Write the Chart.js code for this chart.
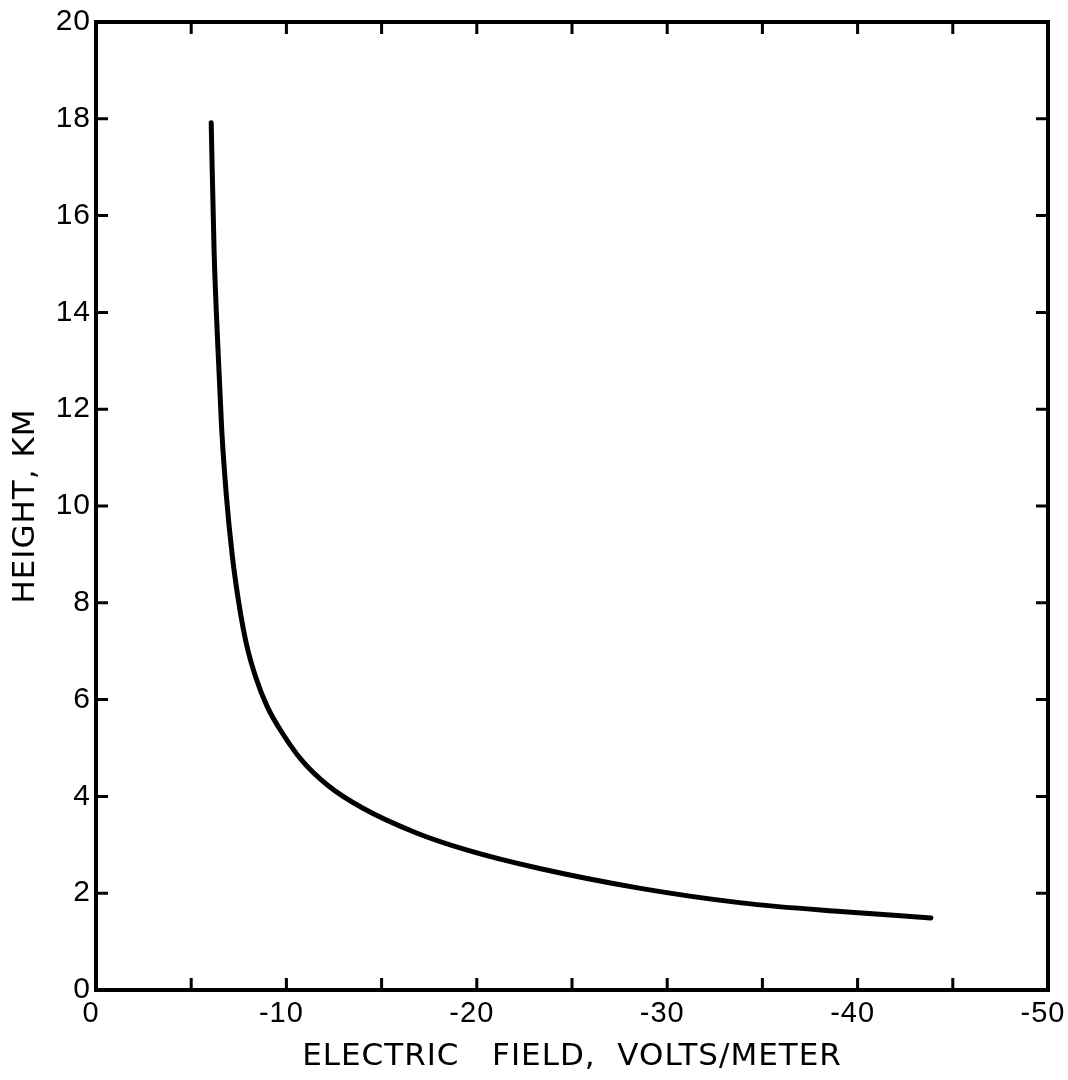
<!DOCTYPE html>
<html>
<head>
<meta charset="utf-8">
<script src="https://cdn.jsdelivr.net/npm/chart.js@4.4.0/dist/chart.umd.min.js"></script>
<style>
  html, body { margin: 0; padding: 0; background: #fff; }
  #wrap { width: 1068px; height: 1080px; }
</style>
</head>
<body>
<div id="wrap"><canvas id="chart"></canvas></div>
<script>
// values (volts/meter, km)
var fieldValues = [-6.05, -6.2, -6.4, -6.6, -6.85, -7.15, -7.5, -7.9, -8.4, -9.0, -9.8, -10.8, -12.2, -14.0, -16.8, -19.5, -23.3, -28.6, -33.9, -39.1, -43.85];
var heightValues = [17.92, 15.3, 13.3, 11.6, 10.2, 9.0, 8.0, 7.15, 6.45, 5.85, 5.3, 4.75, 4.22, 3.76, 3.25, 2.89, 2.51, 2.10, 1.80, 1.62, 1.49];
var xTickLabels = [0, -10, -20, -30, -40, -50]; // labelled ticks, minor ticks every 5
var yTickLabels = [0, 2, 4, 6, 8, 10, 12, 14, 16, 18, 20];

var tickFont = "'Liberation Sans', 'DejaVu Sans', sans-serif";
var titleFont = "'DejaVu Sans', sans-serif";

var points = fieldValues.map(function(v, i) {
  return { x: v, y: heightValues[i] };
});

// frame + inward ticks on the 4 sides
var frameTicks = {
  id: 'frameTicks',
  beforeDraw: function(chart) {
    chart.ctx.letterSpacing = '1px'; // lettering of the original is a bit spaced out
  },
  afterDraw: function(chart) {
    var ctx = chart.ctx;
    var a = chart.chartArea;
    var xs = chart.scales.x, ys = chart.scales.y;
    ctx.save();
    ctx.strokeStyle = '#000';
    ctx.lineWidth = 3;
    xs.ticks.forEach(function(t) {
      var px = xs.getPixelForValue(t.value);
      ctx.beginPath();
      ctx.moveTo(px, a.bottom); ctx.lineTo(px, a.bottom - 12);
      ctx.moveTo(px, a.top); ctx.lineTo(px, a.top + 12);
      ctx.stroke();
    });
    ys.ticks.forEach(function(t) {
      var py = ys.getPixelForValue(t.value);
      ctx.beginPath();
      ctx.moveTo(a.left, py); ctx.lineTo(a.left + 12, py);
      ctx.moveTo(a.right, py); ctx.lineTo(a.right - 12, py);
      ctx.stroke();
    });
    ctx.lineWidth = 4;
    ctx.strokeRect(a.left, a.top, a.right - a.left, a.bottom - a.top);
    ctx.restore();
  }
};

var config = {
  type: 'scatter',
  data: {
    datasets: [{
      data: points,
      showLine: true,
      borderColor: '#000',
      borderWidth: 5,
      borderCapStyle: 'round',
      borderJoinStyle: 'round',
      cubicInterpolationMode: 'monotone',
      pointRadius: 0,
      fill: false
    }]
  },
  options: {
    responsive: false,
    animation: false,
    layout: { padding: { top: 22, right: 20, left: 0, bottom: 0 } },
    plugins: { legend: { display: false }, tooltip: { enabled: false } },
    scales: {
      x: {
        type: 'linear',
        min: -50,
        max: 0,
        reverse: true,
        afterFit: function(s) { s.height = 90; s.paddingLeft = 0; s.paddingRight = 0; },
        grid: { display: false, drawTicks: false },
        border: { display: false },
        ticks: {
          stepSize: 5,
          autoSkip: false,
          maxRotation: 0,
          padding: 7,
          labelOffset: -5,
          color: '#000',
          font: { family: tickFont, size: 29 },
          callback: function(v) {
            return xTickLabels.indexOf(v) >= 0 ? String(v) : '';
          }
        },
        title: {
          display: true,
          text: 'ELECTRIC   FIELD,  VOLTS/METER',
          color: '#000',
          font: { family: titleFont, size: 31 },
          padding: { top: 0, bottom: 4 }
        }
      },
      y: {
        type: 'linear',
        min: 0,
        max: 20,
        afterFit: function(s) { s.width = 96; s.paddingTop = 0; s.paddingBottom = 0; },
        grid: { display: false, drawTicks: false },
        border: { display: false },
        ticks: {
          stepSize: 2,
          autoSkip: false,
          padding: 5,
          color: '#000',
          font: { family: tickFont, size: 30 },
          callback: function(v) {
            return yTickLabels.indexOf(v) >= 0 ? String(v) : '';
          }
        },
        title: {
          display: true,
          text: 'HEIGHT, KM',
          color: '#000',
          font: { family: titleFont, size: 31 },
          padding: { top: 7, bottom: 0 }
        }
      }
    }
  },
  plugins: [frameTicks]
};

var canvas = document.getElementById('chart');
canvas.width = 1068;
canvas.height = 1080;
var myChart = new Chart(canvas.getContext('2d'), config);
</script>
</body>
</html>
